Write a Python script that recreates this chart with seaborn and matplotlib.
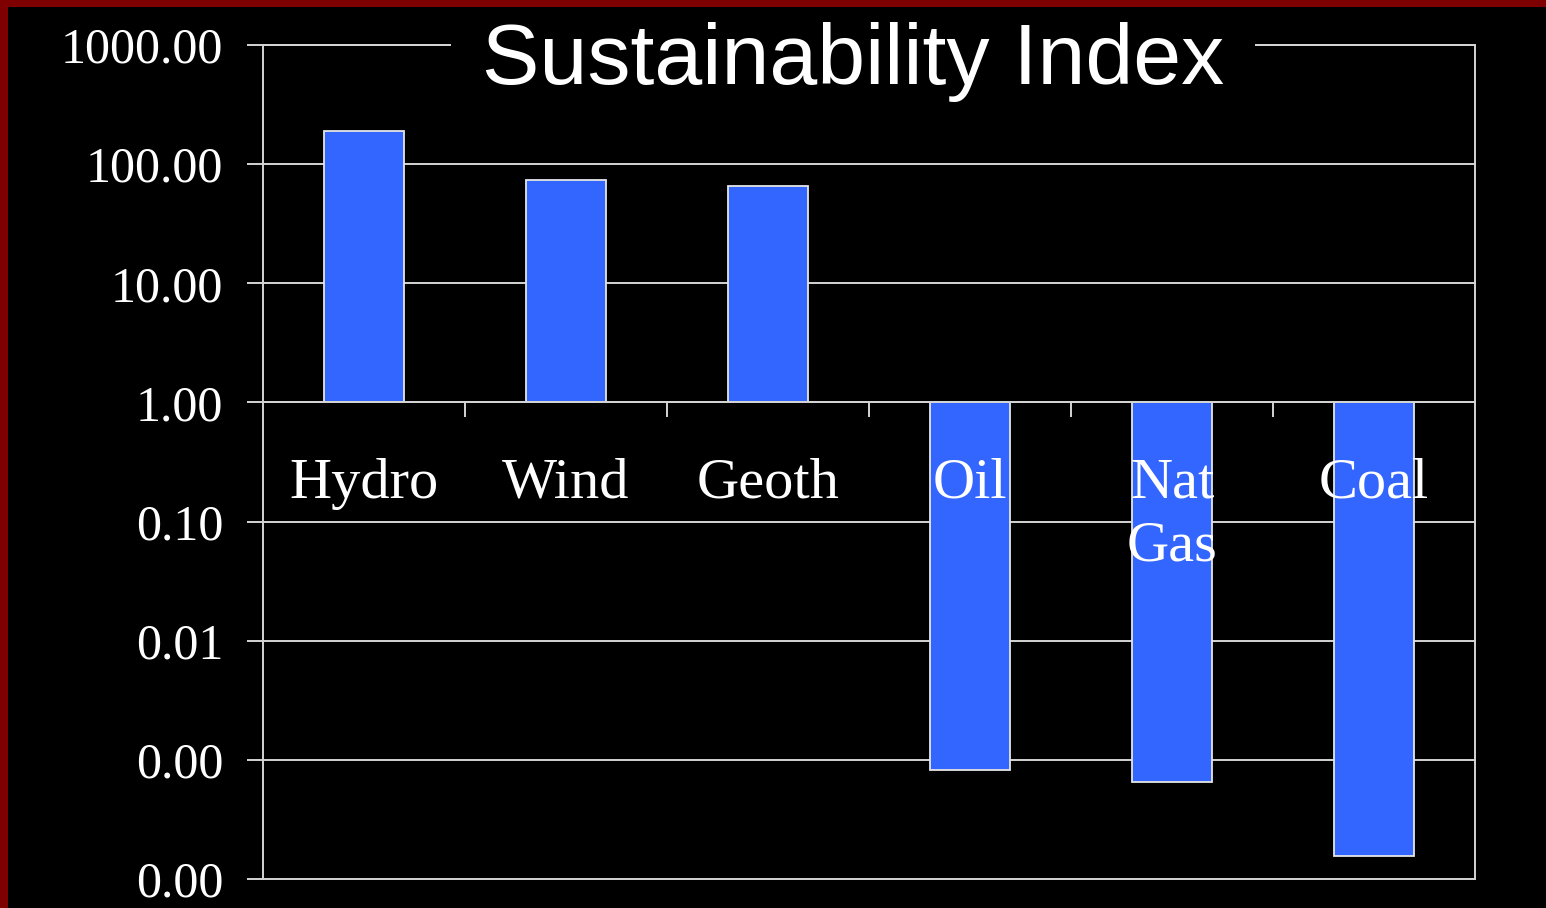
import numpy as np
import matplotlib
matplotlib.use("Agg")
import matplotlib.pyplot as plt
from matplotlib.patches import Rectangle
from matplotlib.ticker import FixedLocator, FuncFormatter
import seaborn as sns

# Sustainability index per energy source (log scale, baseline at 1.00)
categories = ["Hydro", "Wind", "Geoth", "Oil", "Nat\nGas", "Coal"]
index_values = [190.0, 73.0, 65.0, 0.00082, 0.00065, 0.000157]
decade_ticks = [-4, -3, -2, -1, 0, 1, 2, 3]

BAR_COLOR = "#3366FF"
GRID_COLOR = "#D4D4D4"
BORDER_RED = "#7E0000"

sns.set_theme(style="dark")
plt.rcParams["font.family"] = ["Liberation Serif", "DejaVu Serif"]

fig = plt.figure(figsize=(15.46, 9.08), dpi=100, facecolor="black")
ax = fig.add_axes([263 / 1546, 29 / 908, 1212 / 1546, 834 / 908])
ax.set_facecolor("black")

log_values = np.log10(index_values)
sns.barplot(x=list(range(len(categories))), y=log_values, color=BAR_COLOR,
            saturation=1, width=0.4, edgecolor="#E6E6E6", linewidth=1.3,
            ax=ax, zorder=2)

ax.set_xlim(-0.5, len(categories) - 0.5)
ax.set_ylim(decade_ticks[0], decade_ticks[-1])

# y axis: one tick per decade, labelled with the linear value
ax.yaxis.set_major_locator(FixedLocator(decade_ticks))
ax.yaxis.set_major_formatter(FuncFormatter(lambda t, _: f"{10.0 ** float(t):.2f}"))
ax.tick_params(axis="y", which="major", direction="out", length=11.5,
               width=1.4, color=GRID_COLOR, pad=17, labelsize=36,
               labelcolor="white", left=True, right=False)
ax.grid(axis="y", color=GRID_COLOR, linewidth=1.4, zorder=0)
ax.grid(axis="x", visible=False)
ax.set_axisbelow(True)
for gl in ax.get_ygridlines():
    gl.set_clip_on(False)

# x axis sits on the 1.00 line with ticks between categories
ax.spines["bottom"].set_position(("data", 0))
ax.xaxis.set_major_locator(FixedLocator(list(range(len(categories)))))
ax.xaxis.set_minor_locator(FixedLocator([i + 0.5 for i in range(len(categories) - 1)]))
ax.tick_params(axis="x", which="major", length=0, labelbottom=False)
ax.tick_params(axis="x", which="minor", direction="out", length=11, width=1.4,
               color=GRID_COLOR, bottom=True)
ax.set_xlabel("")
ax.set_ylabel("")

for side in ["left", "right", "top", "bottom"]:
    ax.spines[side].set_visible(True)
    ax.spines[side].set_color(GRID_COLOR)
    ax.spines[side].set_linewidth(1.4)

# category names drawn over the bars
for i, name in enumerate(categories):
    ax.annotate(name, xy=(i, 0), xycoords="data", xytext=(0, -40),
                textcoords="offset points", ha="center", va="top",
                fontsize=42, color="white", linespacing=1.27, zorder=5)

# title breaking the top frame line
ax.annotate("Sustainability Index", xy=(0.487, 1.0), xycoords="axes fraction",
            xytext=(0, -28), textcoords="offset points", ha="center",
            va="baseline", fontsize=62, color="white",
            family=["Liberation Sans", "DejaVu Sans"], zorder=6,
            bbox=dict(boxstyle="square,pad=0.36", facecolor="black",
                      edgecolor="none"))

# dark red frame strips along the top and left edges
fig.patches.append(Rectangle((0, 1 - 7 / 908), 1, 7 / 908, transform=fig.transFigure,
                             facecolor=BORDER_RED, edgecolor="none", zorder=10))
fig.patches.append(Rectangle((0, 0), 8 / 1546, 1, transform=fig.transFigure,
                             facecolor=BORDER_RED, edgecolor="none", zorder=10))

fig.savefig("out.png", dpi=100, facecolor="black")
